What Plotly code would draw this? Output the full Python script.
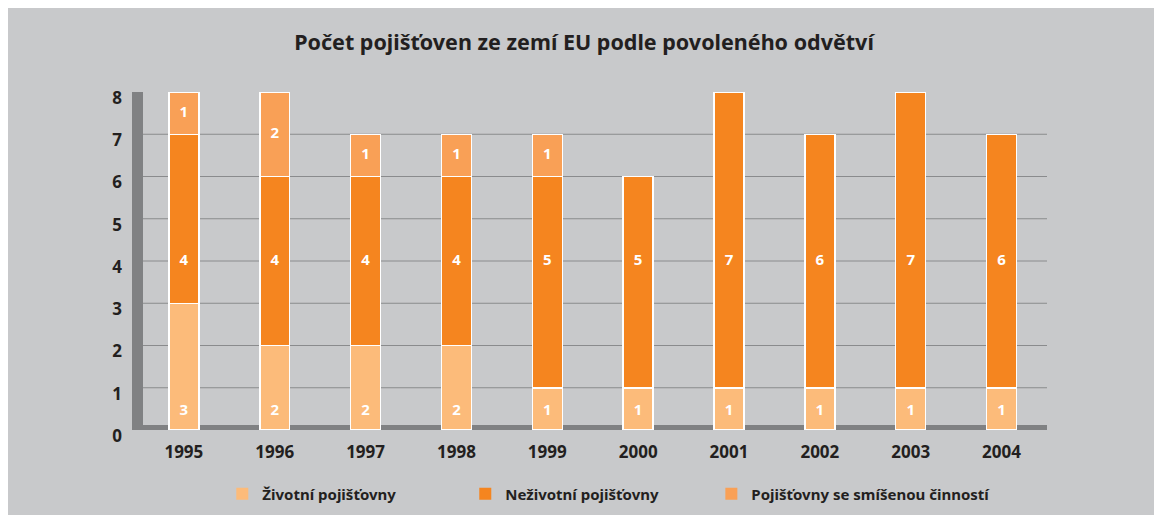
import plotly.graph_objects as go

years = ["1995", "1996", "1997", "1998", "1999", "2000", "2001", "2002", "2003", "2004"]
zivotni = [3, 2, 2, 2, 1, 1, 1, 1, 1, 1]
nezivotni = [4, 4, 4, 4, 5, 5, 7, 6, 7, 6]
smisene = [1, 2, 1, 1, 1, 0, 0, 0, 0, 0]
names = ["Životní pojišťovny", "Neživotní pojišťovny", "Pojišťovny se smíšenou činností"]
colors = ["#fcbb7a", "#f5851f", "#f9a056"]
yticks = [0, 1, 2, 3, 4, 5, 6, 7, 8]

FONT = "Noto Sans"
BG = "#c8c9cb"
AX = "#808183"
TXT = "#231f20"

fig = go.Figure()
series = [zivotni, nezivotni, smisene]
for vals, nm, col in zip(series, names, colors):
    fig.add_trace(go.Bar(
        x=years, y=[v if v else None for v in vals], name=nm,
        marker=dict(color=col, line=dict(color="white", width=1.5)),
        showlegend=False, hoverinfo="x+y+name"))
# legend-only entries (no outline), each in its own legend box
legend_ids = ["legend", "legend2", "legend3"]
for nm, col, lg in zip(names, colors, legend_ids):
    fig.add_trace(go.Bar(x=[None], y=[None], name="<b>%s</b>" % nm, legend=lg,
                         marker=dict(color=col, line=dict(width=0))))

# labels
life_y = [0.45] * len(years)
non_y = [4] * len(years)
mix_y = [z + n + m / 2 for z, n, m in zip(zivotni, nezivotni, smisene)]
lab_font = dict(family=FONT, size=15, color="white")
for vals, ys in [(zivotni, life_y), (nezivotni, non_y), (smisene, mix_y)]:
    xs = [x for x, v in zip(years, vals) if v]
    yy = [y for y, v in zip(ys, vals) if v]
    tt = ["<b>%d</b>" % v for v in vals if v]
    fig.add_trace(go.Scatter(x=xs, y=yy, text=tt, mode="text",
                             textfont=lab_font, showlegend=False,
                             hoverinfo="skip"))

PW = 904.0
shapes = []
for g in range(1, 8):
    shapes.append(dict(type="line", xref="paper", yref="y", x0=0, x1=1, y0=g, y1=g,
                       line=dict(color="#8a8b8d", width=1.2), layer="below"))
# left thick axis
shapes.append(dict(type="rect", xref="paper", yref="y", x0=-11 / PW, x1=0,
                   y0=-0.05, y1=8, fillcolor=AX, line=dict(width=0), layer="below"))
# bottom thick axis
shapes.append(dict(type="rect", xref="paper", yref="y", x0=-5 / PW, x1=1,
                   y0=-0.095, y1=0.118, fillcolor=AX, line=dict(width=0), layer="below"))

leg_common = dict(orientation="h", xanchor="left", y=-64 / 338, yanchor="middle",
                  bgcolor="rgba(0,0,0,0)", font=dict(family=FONT, size=15, color=TXT))

fig.update_layout(
    width=1152, height=507,
    paper_bgcolor=BG, plot_bgcolor=BG,
    margin=dict(l=135, r=113, t=84, b=85, autoexpand=False),
    barmode="stack", bargap=0.67,
    font=dict(family=FONT, color=TXT),
    title=dict(text="<b>Počet pojišťoven ze zemí EU podle povoleného odvětví</b>",
               x=0.5, xanchor="center", xref="container",
               y=1 - 34 / 507, yanchor="middle", yref="container",
               font=dict(family=FONT, size=21.5, color=TXT)),
    xaxis=dict(type="category", range=[-0.45, 9.5], showgrid=False, zeroline=False,
               showline=False, ticks="", ticklabelstandoff=10,
               tickfont=dict(family=FONT, size=17, color=TXT),
               tickvals=years, ticktext=["<b>%s</b>" % y for y in years]),
    yaxis=dict(range=[0, 8], showgrid=False, zeroline=False, showline=False,
               tickvals=yticks, ticktext=["<b>%d</b>" % t for t in yticks],
               ticks="", ticklabelstandoff=20, ticklabelshift=6,
               tickfont=dict(family=FONT, size=17, color=TXT)),
    shapes=shapes,
    legend=dict(x=0.0877, **leg_common),
    legend2=dict(x=0.3565, **leg_common),
    legend3=dict(x=0.6287, **leg_common),
)

fig.write_html("out.html")
